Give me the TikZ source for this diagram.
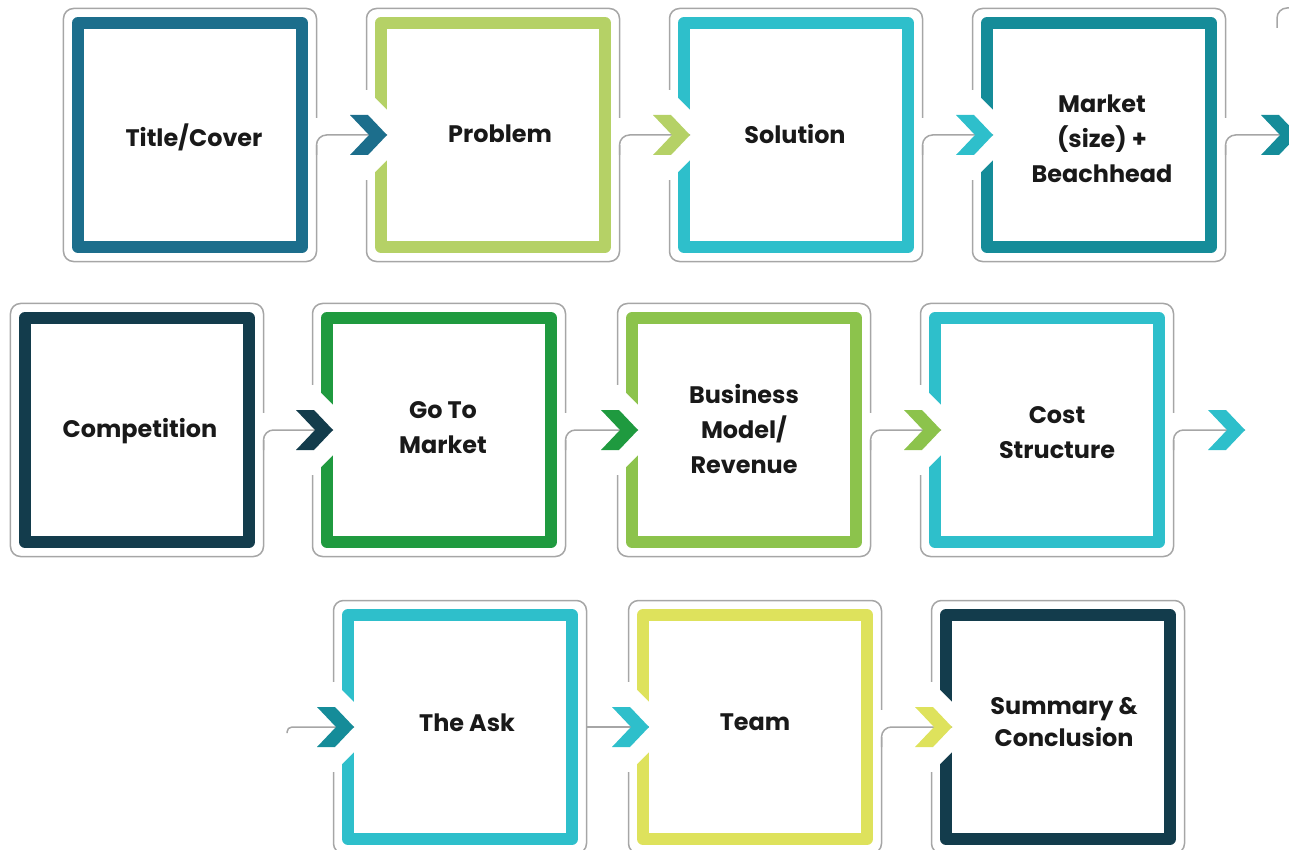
\documentclass[tikz,border=0pt]{standalone}
\usepackage{fontspec}
\setmainfont{Poppins}
\usetikzlibrary{positioning}

\definecolor{deckblue}{HTML}{1C6E8C}
\definecolor{decklime}{HTML}{B5D166}
\definecolor{deckcyan}{HTML}{2EBFCB}
\definecolor{deckteal}{HTML}{158C99}
\definecolor{decknavy}{HTML}{133C4C}
\definecolor{deckgreen}{HTML}{1F9A3F}
\definecolor{deckleaf}{HTML}{8CC34C}
\definecolor{deckyellow}{HTML}{DEE25C}
\definecolor{shellgray}{HTML}{A6A6A6}

\tikzset{
  shell/.style={draw=shellgray, line width=0.3mm, rounded corners=2mm, minimum size=50.6mm, inner sep=0pt, outer sep=0pt},
  frame/.style={draw=#1, line width=2.4mm, line join=round, minimum size=44.8mm, inner sep=0pt},
  caption/.style={align=center, inner sep=0pt, font=\fontsize{13.6}{20}\selectfont\bfseries, text=black!90},
  link/.style={draw=shellgray, line width=0.3mm, rounded corners=2mm},
  chev/.pic={\fill (-37,-20) -- (-19,-20) -- (0,0) -- (-19,20) -- (-37,20) -- (-18,0) -- cycle;},
  notch/.pic={\fill[white] (-2,-39) -- (37,0) -- (-2,39) -- cycle;}
}

\begin{document}
\begin{tikzpicture}[x=0.2mm, y=-0.2mm]
    \useasboundingbox (0,0) rectangle (1289,850);
    \clip (0,0) rectangle (1289,850);

    % gray shells
    \node[shell] (o1) at (190,135) {};
    \node[shell] (o2) at (493,135) {};
    \node[shell] (o3) at (796,135) {};
    \node[shell] (o4) at (1099,135) {};
    \node[shell] (o5) at (137,430) {};
    \node[shell] (o6) at (439,430) {};
    \node[shell] (o7) at (744,430) {};
    \node[shell] (o8) at (1047,430) {};
    \node[shell] (o9) at (460,727) {};
    \node[shell] (o10) at (755,727) {};
    \node[shell] (o11) at (1058,727) {};
    \draw[link] (1277,28) |- (1300,8);

    % openings on the right
    \fill[white] ([xshift=-0.5mm,yshift=-2mm]o1.east) rectangle ([xshift=0.5mm,yshift=3.4mm]o1.east);
    \fill[white] ([xshift=-0.5mm,yshift=-2mm]o2.east) rectangle ([xshift=0.5mm,yshift=3.4mm]o2.east);
    \fill[white] ([xshift=-0.5mm,yshift=-2mm]o3.east) rectangle ([xshift=0.5mm,yshift=3.4mm]o3.east);
    \fill[white] ([xshift=-0.5mm,yshift=-2mm]o4.east) rectangle ([xshift=0.5mm,yshift=3.4mm]o4.east);
    \fill[white] ([xshift=-0.5mm,yshift=-2mm]o5.east) rectangle ([xshift=0.5mm,yshift=3.4mm]o5.east);
    \fill[white] ([xshift=-0.5mm,yshift=-2mm]o6.east) rectangle ([xshift=0.5mm,yshift=3.4mm]o6.east);
    \fill[white] ([xshift=-0.5mm,yshift=-2mm]o7.east) rectangle ([xshift=0.5mm,yshift=3.4mm]o7.east);
    \fill[white] ([xshift=-0.5mm,yshift=-2mm]o8.east) rectangle ([xshift=0.5mm,yshift=3.4mm]o8.east);
    \fill[white] ([xshift=-0.5mm,yshift=-2mm]o10.east) rectangle ([xshift=0.5mm,yshift=3.4mm]o10.east);

    % openings on the left
    \fill[white] ([xshift=-0.5mm,yshift=-9mm]o2.west) rectangle ([xshift=0.5mm,yshift=9mm]o2.west);
    \fill[white] ([xshift=-0.5mm,yshift=-9mm]o3.west) rectangle ([xshift=0.5mm,yshift=9mm]o3.west);
    \fill[white] ([xshift=-0.5mm,yshift=-9mm]o4.west) rectangle ([xshift=0.5mm,yshift=9mm]o4.west);
    \fill[white] ([xshift=-0.5mm,yshift=-9mm]o6.west) rectangle ([xshift=0.5mm,yshift=9mm]o6.west);
    \fill[white] ([xshift=-0.5mm,yshift=-9mm]o7.west) rectangle ([xshift=0.5mm,yshift=9mm]o7.west);
    \fill[white] ([xshift=-0.5mm,yshift=-9mm]o8.west) rectangle ([xshift=0.5mm,yshift=9mm]o8.west);
    \fill[white] ([xshift=-0.5mm,yshift=-9mm]o9.west) rectangle ([xshift=0.5mm,yshift=9mm]o9.west);
    \fill[white] ([xshift=-0.5mm,yshift=-9mm]o10.west) rectangle ([xshift=0.5mm,yshift=9mm]o10.west);
    \fill[white] ([xshift=-0.5mm,yshift=-9mm]o11.west) rectangle ([xshift=0.5mm,yshift=9mm]o11.west);

    % colored frames
    \node[frame=deckblue] (t1) at (o1) {};
    \node[frame=decklime] (t2) at (o2) {};
    \node[frame=deckcyan] (t3) at (o3) {};
    \node[frame=deckteal] (t4) at (o4) {};
    \node[frame=decknavy] (t5) at (o5) {};
    \node[frame=deckgreen] (t6) at (o6) {};
    \node[frame=deckleaf] (t7) at (o7) {};
    \node[frame=deckcyan] (t8) at (o8) {};
    \node[frame=deckcyan] (t9) at (o9) {};
    \node[frame=deckyellow] (t10) at (o10) {};
    \node[frame=decknavy] (t11) at (o11) {};

    % texts
    \node[caption] (l1) at ([shift={(4,2)}]t1) {Title/Cover};
    \node[caption] (l2) at ([shift={(7,-1)}]t2) {Problem};
    \node[caption] (l3) at ([shift={(-1,-1)}]t3) {Solution};
    \node[caption] (l4) at ([shift={(3,4)}]t4) {Market\\(size) +\\Beachhead};
    \node[caption] (l5) at ([shift={(3,1)}]t5) {Competition};
    \node[caption] (l6) at ([shift={(4,-2)}]t6) {Go To\\Market};
    \node[caption] (l7) at ([shift={(0,-1)}]t7) {Business\\Model/\\Revenue};
    \node[caption] (l8) at ([shift={(10,3)}]t8) {Cost\\Structure};
    \node[caption] (l9) at ([shift={(7,-4)}]t9) {The Ask};
    \node[caption] (l10) at ([shift={(0,-5)}]t10) {Team};
    \node[caption] (l11) at ([shift={(6,-5)}]t11) {Summary \&\\[-0.6mm]Conclusion};

    % notches where the arrows come in
    \pic at (t2.west) {notch};
    \pic at (t3.west) {notch};
    \pic at (t4.west) {notch};
    \pic at (t6.west) {notch};
    \pic at (t7.west) {notch};
    \pic at (t8.west) {notch};
    \pic at (t9.west) {notch};
    \pic at (t10.west) {notch};
    \pic at (t11.west) {notch};

    % arrow tips
    \coordinate (a2) at ([xshift=2.4mm]t2.west);
    \coordinate (a3) at ([xshift=2.4mm]t3.west);
    \coordinate (a4) at ([xshift=2.4mm]t4.west);
    \coordinate (e1) at (1298,135);
    \coordinate (a6) at ([xshift=2.4mm]t6.west);
    \coordinate (a7) at ([xshift=2.4mm]t7.west);
    \coordinate (a8) at ([xshift=2.4mm]t8.west);
    \coordinate (e2) at (1245,430);
    \coordinate (r3) at (287,733);
    \coordinate (a9) at ([xshift=2.4mm]t9.west);
    \coordinate (a10) at ([xshift=2.4mm]t10.west);
    \coordinate (a11) at ([xshift=2.4mm]t11.west);

    % connectors
    \draw[link] ([yshift=-4mm]o1.east) |- (a2);
    \draw[link] ([yshift=-4mm]o2.east) |- (a3);
    \draw[link] ([yshift=-4mm]o3.east) |- (a4);
    \draw[link] ([yshift=-4mm]o4.east) |- (e1);
    \draw[link] ([yshift=-4mm]o5.east) |- (a6);
    \draw[link] ([yshift=-4mm]o6.east) |- (a7);
    \draw[link] ([yshift=-4mm]o7.east) |- (a8);
    \draw[link] ([yshift=-4mm]o8.east) |- (e2);
    \draw[link, rounded corners=1mm] (r3) |- (a9);
    \draw[link] (o9.east) -- (a10);
    \draw[link] ([yshift=-4mm]o10.east) |- (a11);

    % chevrons
    \pic[deckblue] at (a2) {chev};
    \pic[decklime] at (a3) {chev};
    \pic[deckcyan] at (a4) {chev};
    \pic[deckteal] at (e1) {chev};
    \pic[decknavy] at (a6) {chev};
    \pic[deckgreen] at (a7) {chev};
    \pic[deckleaf] at (a8) {chev};
    \pic[deckcyan] at (e2) {chev};
    \pic[deckteal] at (a9) {chev};
    \pic[deckcyan] at (a10) {chev};
    \pic[deckyellow] at (a11) {chev};
\end{tikzpicture}
\end{document}
